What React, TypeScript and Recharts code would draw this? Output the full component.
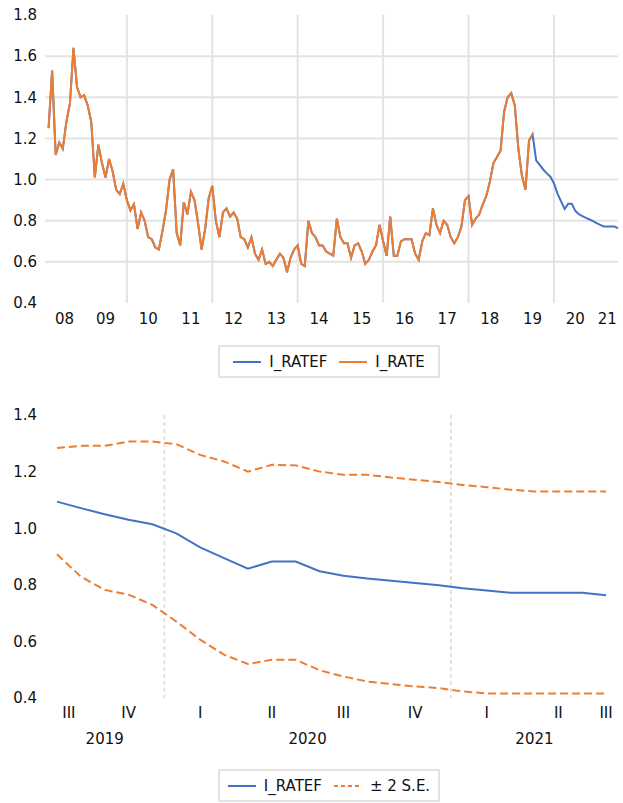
import React from "react";
import { LineChart, Line, XAxis, YAxis, CartesianGrid } from "recharts";

const BLUE = "#4472c4";
const ORANGE = "#ed7d31";
const GRID = "#e3e3e3";
const FONT = "'DejaVu Sans', sans-serif";
const FONT_SIZE = 15;

// I_RATE, monthly, 2008M03 .. 2019M07
const iRate = [
  1.25, 1.53, 1.12, 1.18, 1.15, 1.28, 1.37, 1.64, 1.45, 1.4,
  1.41, 1.36, 1.28, 1.01, 1.17, 1.08, 1.01, 1.1, 1.04, 0.95,
  0.93, 0.98, 0.9, 0.85, 0.88, 0.76, 0.84, 0.8, 0.72, 0.71,
  0.67, 0.66, 0.75, 0.85, 1.0, 1.05, 0.74, 0.68, 0.89, 0.83,
  0.94, 0.9, 0.79, 0.66, 0.76, 0.91, 0.97, 0.8, 0.72, 0.84,
  0.86, 0.82, 0.84, 0.81, 0.72, 0.71, 0.67, 0.72, 0.64, 0.61,
  0.66, 0.59, 0.6, 0.58, 0.61, 0.64, 0.62, 0.55, 0.62, 0.66,
  0.68, 0.59, 0.58, 0.8, 0.74, 0.72, 0.68, 0.68, 0.65, 0.64,
  0.63, 0.81, 0.72, 0.69, 0.69, 0.62, 0.68, 0.69, 0.65, 0.59,
  0.61, 0.65, 0.68, 0.78, 0.7, 0.63, 0.82, 0.63, 0.63, 0.7,
  0.71, 0.71, 0.71, 0.64, 0.61, 0.7, 0.74, 0.73, 0.86, 0.78,
  0.74, 0.8, 0.78, 0.72, 0.69, 0.72, 0.77, 0.9, 0.92, 0.78,
  0.81, 0.83, 0.88, 0.92, 0.99, 1.08, 1.11, 1.14, 1.33, 1.4,
  1.42, 1.36, 1.15, 1.02, 0.95, 1.19, 1.22,
];

// I_RATEF forecast and ±2 S.E. band, monthly, 2019M08 .. 2021M07
const iRateF = [
  1.094, 1.071, 1.049, 1.03, 1.014, 0.982, 0.932, 0.894, 0.857, 0.882,
  0.882, 0.848, 0.832, 0.822, 0.814, 0.806, 0.798, 0.788, 0.78, 0.772,
  0.772, 0.772, 0.772, 0.763,
];
const seUpper = [
  1.283, 1.291, 1.291, 1.306, 1.306, 1.297, 1.259, 1.236, 1.2, 1.224,
  1.222, 1.2, 1.189, 1.189, 1.179, 1.171, 1.163, 1.153, 1.145, 1.136,
  1.13, 1.13, 1.13, 1.13,
];
const seLower = [
  0.908, 0.829, 0.782, 0.765, 0.729, 0.67, 0.606, 0.553, 0.52, 0.535,
  0.535, 0.498, 0.476, 0.458, 0.449, 0.441, 0.435, 0.423, 0.416, 0.416,
  0.416, 0.416, 0.416, 0.416,
];

const topYears = [2008, 2009, 2010, 2011, 2012, 2013, 2014, 2015, 2016, 2017, 2018, 2019, 2020, 2021];
const topGridYears = [2010, 2012, 2014, 2016, 2018, 2020];
const topYTicks = [0.4, 0.6, 0.8, 1.0, 1.2, 1.4, 1.6, 1.8];
const topYGrid = [0.6, 0.8, 1.0, 1.2, 1.4, 1.6];
const bottomYTicks = [0.4, 0.6, 0.8, 1.0, 1.2, 1.4];
const bottomYears = [2019, 2020, 2021];
const romans = ["I", "II", "III", "IV"];

// month index relative to the first I_RATE observation (2008M03)
const topIdx = (y: number, m: number) => (y - 2008) * 12 + (m - 3);
// month index relative to the first forecast month (2019M08)
const fcIdx = (y: number, m: number) => (y - 2019) * 12 + (m - 8);

const TOP_DOMAIN: [number, number] = [topIdx(2008, 2), topIdx(2021, 7)];
const FC_DOMAIN: [number, number] = [-0.5, iRateF.length - 0.5];
const fcOffset = iRate.length; // forecast begins the month after the last actual

const topData = Array.from({ length: iRate.length + iRateF.length }, (_, k) => ({
  k,
  rate: k < iRate.length ? iRate[k] : null,
  ratef: k < iRate.length ? iRate[k] : iRateF[k - fcOffset],
}));

const bottomData = iRateF.map((f, i) => ({ i, f, hi: seUpper[i], lo: seLower[i] }));

const clampCenter = (s: number, e: number, dom: [number, number]) => {
  const lo = Math.max(s, dom[0]);
  const hi = Math.min(e, dom[1]);
  return hi > lo ? (lo + hi) / 2 : null;
};

const topTicks = topYears
  .map((y) => ({ pos: clampCenter(topIdx(y, 1), topIdx(y, 1) + 12, TOP_DOMAIN), label: String(y).slice(2) }))
  .filter((t) => t.pos !== null) as { pos: number; label: string }[];
const topGrid = topGridYears.map((y) => topIdx(y, 1));

const quarterTicks: { pos: number; label: string }[] = [];
bottomYears.forEach((y) => {
  for (let q = 1; q <= 4; q++) {
    const s = fcIdx(y, 3 * q - 2) - 0.5;
    const c = clampCenter(s, s + 3, FC_DOMAIN);
    if (c !== null) quarterTicks.push({ pos: c, label: romans[q - 1] });
  }
});
const yearTicks = bottomYears
  .map((y) => ({ pos: clampCenter(fcIdx(y, 1) - 0.5, fcIdx(y, 1) + 11.5, FC_DOMAIN), label: String(y) }))
  .filter((t) => t.pos !== null) as { pos: number; label: string }[];
const yearGrid = bottomYears.slice(1).map((y) => fcIdx(y, 1) - 0.5);

const lookup = (ticks: { pos: number; label: string }[]) => (v: number) =>
  ticks.find((t) => Math.abs(t.pos - v) < 1e-6)?.label ?? "";

const tickStyle = { fill: "#111", fontSize: FONT_SIZE, fontFamily: FONT };

function LegendBox({ top, items }: { top: number; items: { label: string; color: string; dash?: string }[] }) {
  return (
    <div
      style={{
        position: "absolute",
        left: 218,
        top,
        width: 222,
        height: 33,
        boxSizing: "border-box",
        border: `2px solid ${GRID}`,
        display: "flex",
        alignItems: "center",
        justifyContent: "center",
        gap: 12,
        fontFamily: FONT,
        fontSize: FONT_SIZE,
        color: "#111",
      }}
    >
      {items.map((it) => (
        <div key={it.label} style={{ display: "flex", alignItems: "center", gap: 8 }}>
          <svg width={28} height={4}>
            <line x1={0} y1={2} x2={28} y2={2} stroke={it.color} strokeWidth={2} strokeDasharray={it.dash} />
          </svg>
          <span>{it.label}</span>
        </div>
      ))}
    </div>
  );
}

export default function App() {
  return (
    <div style={{ position: "absolute", left: 0, top: 0, width: 623, height: 803, background: "#fff" }}>
      <div style={{ position: "absolute", left: 0, top: 0 }}>
        <LineChart width={623} height={340} data={topData} margin={{ top: 15, right: 5, bottom: 7, left: 0 }}>
          <CartesianGrid stroke={GRID} strokeWidth={2} verticalValues={topGrid} horizontalValues={topYGrid} />
          <XAxis
            dataKey="k"
            type="number"
            domain={TOP_DOMAIN}
            ticks={topTicks.map((t) => t.pos)}
            tickFormatter={lookup(topTicks)}
            interval={0}
            axisLine={false}
            tickLine={false}
            tickSize={0}
            tickMargin={10}
            height={30}
            tick={tickStyle}
          />
          <YAxis
            type="number"
            domain={[0.4, 1.8]}
            ticks={topYTicks}
            tickFormatter={(v: number) => v.toFixed(1)}
            interval={0}
            axisLine={false}
            tickLine={false}
            tickSize={0}
            tickMargin={8}
            width={45}
            tick={tickStyle}
          />
          <Line dataKey="ratef" stroke={BLUE} strokeWidth={2} dot={false} isAnimationActive={false} />
          <Line dataKey="rate" stroke={ORANGE} strokeWidth={2} dot={false} isAnimationActive={false} />
        </LineChart>
      </div>
      <LegendBox
        top={345}
        items={[
          { label: "I_RATEF", color: BLUE },
          { label: "I_RATE", color: ORANGE },
        ]}
      />
      <div style={{ position: "absolute", left: 0, top: 390 }}>
        <LineChart width={623} height={360} data={bottomData} margin={{ top: 25, right: 5, bottom: 9, left: 0 }}>
          <CartesianGrid stroke="#d9d9d9" strokeWidth={1.5} strokeDasharray="4 3" horizontal={false} verticalValues={yearGrid} />
          <XAxis
            dataKey="i"
            type="number"
            domain={FC_DOMAIN}
            ticks={quarterTicks.map((t) => t.pos)}
            tickFormatter={lookup(quarterTicks)}
            interval={0}
            axisLine={false}
            tickLine={false}
            tickSize={0}
            tickMargin={9}
            height={21}
            tick={tickStyle}
          />
          <XAxis
            xAxisId="year"
            dataKey="i"
            type="number"
            domain={FC_DOMAIN}
            ticks={yearTicks.map((t) => t.pos)}
            tickFormatter={lookup(yearTicks)}
            interval={0}
            axisLine={false}
            tickLine={false}
            tickSize={0}
            tickMargin={14}
            height={22}
            tick={tickStyle}
          />
          <YAxis
            type="number"
            domain={[0.4, 1.4]}
            ticks={bottomYTicks}
            tickFormatter={(v: number) => v.toFixed(1)}
            interval={0}
            axisLine={false}
            tickLine={false}
            tickSize={0}
            tickMargin={8}
            width={45}
            tick={tickStyle}
          />
          <Line dataKey="hi" stroke={ORANGE} strokeWidth={2} strokeDasharray="8 4" dot={false} isAnimationActive={false} />
          <Line dataKey="lo" stroke={ORANGE} strokeWidth={2} strokeDasharray="8 4" dot={false} isAnimationActive={false} />
          <Line dataKey="f" stroke={BLUE} strokeWidth={2} dot={false} isAnimationActive={false} />
        </LineChart>
      </div>
      <LegendBox
        top={769}
        items={[
          { label: "I_RATEF", color: BLUE },
          { label: "± 2 S.E.", color: ORANGE, dash: "4 3" },
        ]}
      />
    </div>
  );
}
